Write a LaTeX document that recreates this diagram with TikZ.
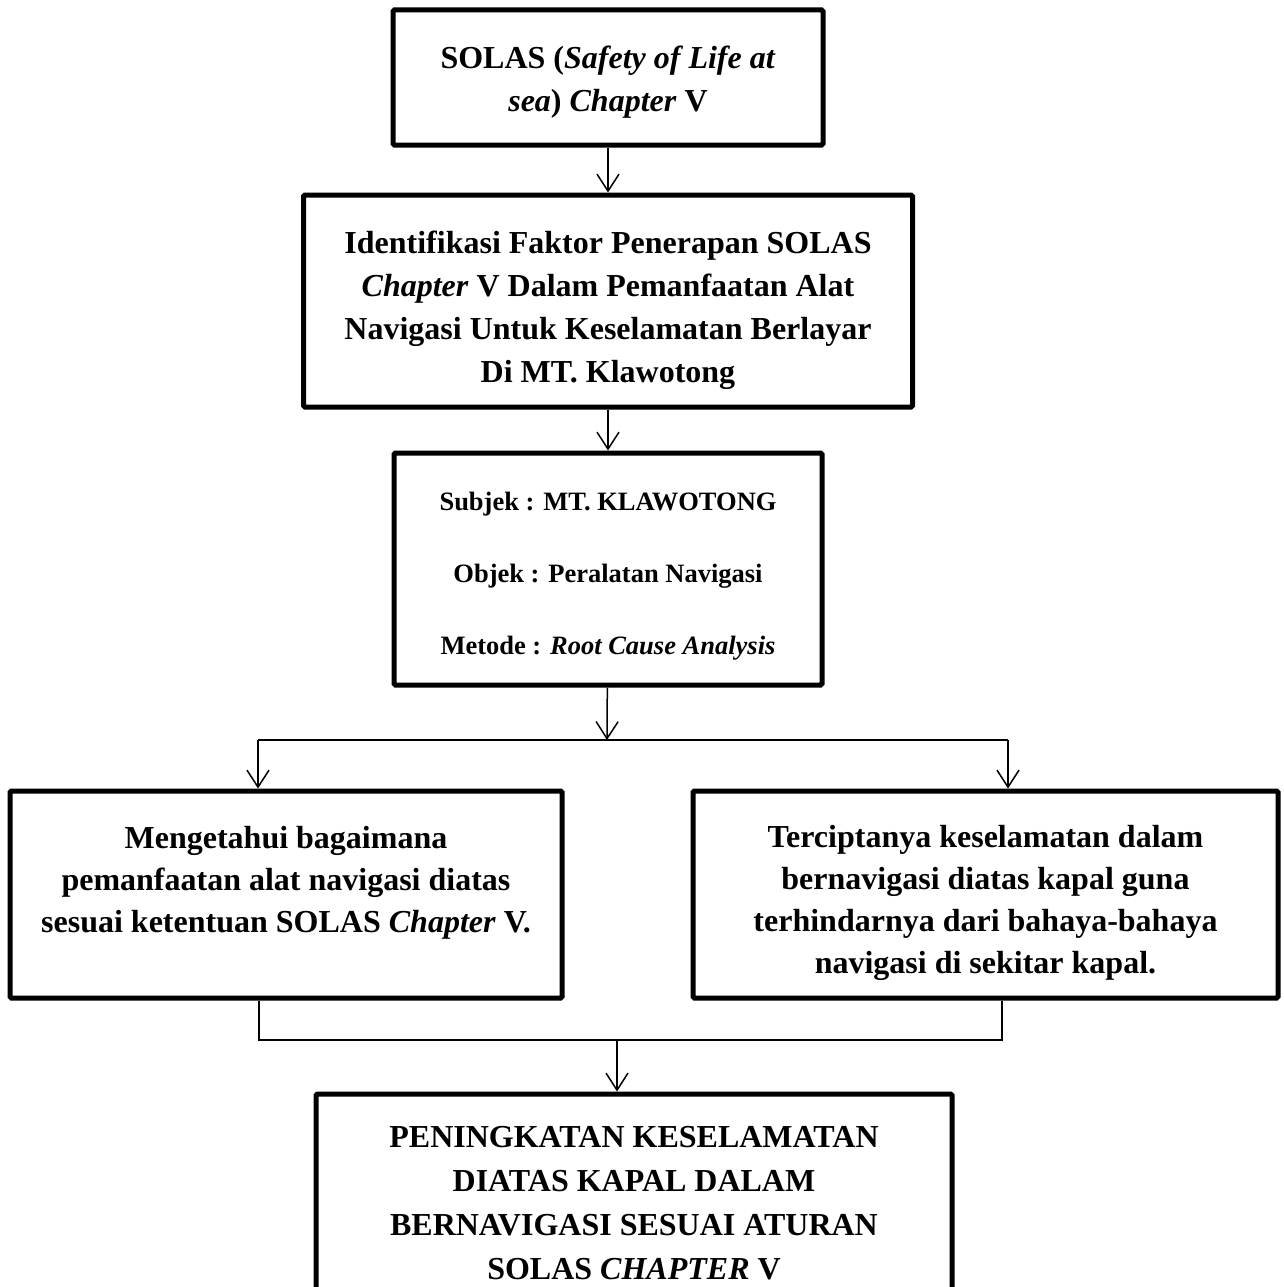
\documentclass[tikz,border=0pt]{standalone}
\usepackage{fontspec}
\setmainfont{Liberation Serif}
\usetikzlibrary{arrows.meta}
\newcommand{\padtop}[1]{\rule{0pt}{#1}}

\begin{document}
\begin{tikzpicture}[x=1pt,y=-1pt,>={Straight Barb[length=17pt,width=22pt]},
  box/.style={draw, line width=5pt, align=center, inner sep=0pt, rounded corners=1.5pt, font=\fontsize{32}{43}\selectfont\bfseries},
  link/.style={line width=1.5pt}]
\clip (0,0) rectangle (1283,1287);

\node[box, minimum width=430pt, minimum height=135pt] (solas) at (608,77.5) {\padtop{32pt}SOLAS (\textit{Safety of Life at}\\ \textit{sea}) \textit{Chapter} V};
\node[box, minimum width=609pt, minimum height=212pt] (ident) at (608,301) {\padtop{42pt}Identifikasi Faktor Penerapan SOLAS\\ \textit{Chapter} V Dalam Pemanfaatan Alat\\ Navigasi Untuk Keselamatan Berlayar\\ Di MT. Klawotong};
\node[box, minimum width=428pt, minimum height=232pt, font=\fontsize{26.5}{72}\selectfont\bfseries] (method) at (608,569) {\padtop{32pt}Subjek : MT. KLAWOTONG\\ Objek : Peralatan Navigasi\\ Metode : \textit{Root Cause Analysis}};
\node[box, minimum width=552pt, minimum height=207pt, font=\fontsize{32}{42}\selectfont\bfseries] (goalL) at (286,894.5) {\padtop{34pt}Mengetahui bagaimana\\ pemanfaatan alat navigasi diatas\\ sesuai ketentuan SOLAS \textit{Chapter} V.\\ \mbox{}};
\node[box, minimum width=585pt, minimum height=207pt, font=\fontsize{32}{42}\selectfont\bfseries] (goalR) at (985.5,894.5) {\padtop{40pt}Terciptanya keselamatan dalam\\ bernavigasi diatas kapal guna\\ terhindarnya dari bahaya-bahaya\\ navigasi di sekitar kapal.};
\node[box, minimum width=636pt, minimum height=219pt, font=\fontsize{32}{44}\selectfont\bfseries] (result) at (634,1203.5) {PENINGKATAN KESELAMATAN\\ DIATAS KAPAL DALAM\\ BERNAVIGASI SESUAI ATURAN\\ SOLAS \textit{CHAPTER} V};

\coordinate (split) at (607,740);
\coordinate (splitL) at (258,740);
\coordinate (splitR) at (1008,740);
\coordinate (joinL) at (259,1040);
\coordinate (joinR) at (1002,1040);
\coordinate (join) at (617,1040);

\draw[link,->] (solas) -- (ident);
\draw[link,->] (ident) -- (method);
\draw[link,->] (method) -- (split);
\draw[link] (splitL) -- (splitR);
\draw[link,->] (splitL) -- (splitL |- goalL.north);
\draw[link,->] (splitR) -- (splitR |- goalR.north);
\draw[link] (joinL |- goalL.south) -- (joinL) -- (joinR) -- (joinR |- goalR.south);
\draw[link,->] (join) -- (join |- result.north);
\end{tikzpicture}
\end{document}
